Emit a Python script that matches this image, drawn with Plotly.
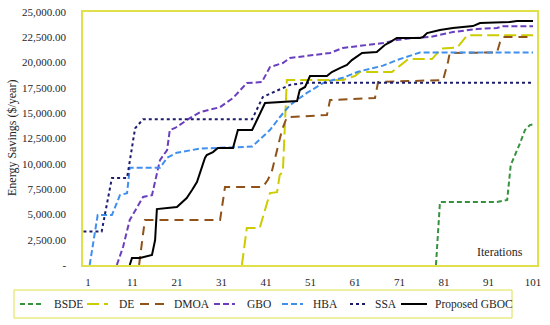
import plotly.graph_objects as go

# ---- data (iteration, energy savings $/year) ----
BSDE_x = [79.2, 80.1, 92.9, 95.2, 96, 97, 98.1, 99.2, 100.3, 101]
BSDE_y = [0, 6220, 6220, 6420, 9880, 10870, 12050, 13340, 13830, 13900]

DE_x = [35.6, 36.7, 39.6, 41.9, 43.5, 44.1, 44.8, 45.2, 45.7, 58.3, 61, 62.1, 69.3, 73, 78.3, 80.5, 84, 86.2, 101]
DE_y = [0, 3650, 3650, 7110, 7200, 8900, 9190, 13340, 18280, 18280, 18670, 19070, 19070, 20350, 20350, 21400, 21500, 22700, 22700]

DMOA_x = [12.5, 13.8, 30.7, 31.8, 40.3, 41.4, 42.3, 43.7, 44.6, 45.7, 54.7, 55.4, 65.5, 66.2, 80.8, 81.9, 82.3, 92.9, 93.6, 94.3, 101]
DMOA_y = [0, 4450, 4450, 7700, 7700, 8400, 9190, 11660, 13340, 14600, 14820, 16300, 16500, 18080, 18280, 20060, 20950, 21000, 22030, 22530, 22530]

GBO_x = [7.5, 8.9, 10.4, 13.4, 15.4, 17.2, 18.8, 19.4, 20.6, 23.9, 26.2, 30.7, 33.6, 36.7, 40.1, 41.9, 44.8, 46.4, 55.4, 58.3, 67.3, 70.4, 74, 77.9, 83, 88.4, 92.9, 94.3, 101]
GBO_y = [0, 1780, 4450, 6720, 6900, 10370, 11360, 13340, 13540, 14520, 15100, 15600, 16500, 17980, 18080, 19560, 19960, 20450, 20950, 21450, 21930, 22230, 22430, 22530, 23020, 23320, 23420, 23600, 23600]

HBA_x = [1.4, 3.2, 6.4, 8.2, 9.8, 10.4, 17.2, 18.8, 21, 26.2, 37.9, 40.1, 41.9, 44.1, 46.4, 48.6, 50.2, 54.3, 58.3, 61.7, 67.3, 70.4, 74, 75.6, 101]
HBA_y = [0, 4940, 4940, 6900, 7100, 9600, 9600, 10600, 11100, 11500, 11700, 12650, 13340, 14600, 15800, 16500, 17000, 18100, 18500, 19100, 19700, 20250, 20750, 21000, 21000]

SSA_x = [0, 4.1, 4.8, 6.4, 9.8, 11.6, 13.4, 37.9, 40.3, 46.4, 49.8, 101]
SSA_y = [3300, 3300, 4940, 8600, 8600, 13500, 14400, 14400, 16600, 17800, 18000, 18000]

GBOC_x = [10.4, 10.9, 12.7, 15.4, 16.1, 16.5, 21, 22.1, 23.2, 24.4, 25.5, 27.3, 27.7, 29.1, 30.2, 33.6, 34.7, 37.9, 40.8, 48, 48.6, 49.8, 50.9, 54.7, 55.8, 57.6, 59.2, 60.3, 62.6, 65.9, 67.7, 68.9, 70.4, 75.6, 76.3, 77.2, 80.1, 83, 87.5, 89.1, 95.8, 97.4, 101]
GBOC_y = [0, 690, 690, 990, 2470, 5530, 5730, 6220, 6620, 7410, 8200, 10570, 10870, 11160, 11560, 11560, 13340, 13340, 16000, 16200, 17290, 17590, 18670, 18670, 19070, 19460, 19760, 20250, 20950, 21040, 21740, 22030, 22430, 22430, 22530, 22920, 23220, 23420, 23610, 23910, 24010, 24110, 24110]

x_ticks = [1, 11, 21, 31, 41, 51, 61, 71, 81, 91, 101]
y_ticks = [0, 2500, 5000, 7500, 10000, 12500, 15000, 17500, 20000, 22500, 25000]
y_tick_text = ["-", "2,500.00", "5,000.00", "7,500.00", "10,000.00", "12,500.00",
               "15,000.00", "17,500.00", "20,000.00", "22,500.00", "25,000.00"]

FONT = "Liberation Serif"
TXT = "#262626"
BORDER = "#e0e04a"

W, H = 550, 325
ML, MR, MT, MB = 83, 13, 12, 60
PW, PH = W - ML - MR, H - MT - MB


def px(xp):  # pixel -> paper x
    return (xp - ML) / PW


def py(yp):  # pixel -> paper y
    return (H - MB - yp) / PH


series = [
    ("BSDE", BSDE_x, BSDE_y, "#35923d", "5px,3px"),
    ("DE", DE_x, DE_y, "#cccc00", "12px,5px"),
    ("DMOA", DMOA_x, DMOA_y, "#8f5219", "9px,6px"),
    ("GBO", GBO_x, GBO_y, "#6a3fbf", "6px,3px"),
    ("HBA", HBA_x, HBA_y, "#3f8fef", "6px,3px"),
    ("SSA", SSA_x, SSA_y, "#1c1c6e", "dot"),
    ("Proposed GBOC", GBOC_x, GBOC_y, "#000000", "solid"),
]
# legend layout (pixel positions of sample start/end and label start)
legend_pos = [(20, 43, 52), (87, 108, 117), (140, 165, 172), (214, 235, 245),
              (282, 303, 311), (350, 367, 373), (401, 427, 433)]

fig = go.Figure()
shapes = [dict(type="rect", xref="paper", yref="paper", x0=px(14), x1=px(512),
               y0=py(318), y1=py(290), line=dict(color=BORDER, width=1),
               fillcolor="white", layer="above")]
annotations = [
    dict(text="Energy Savings ($/year)", textangle=-90, x=px(12), y=py(138),
         xref="paper", yref="paper", xanchor="center", yanchor="middle", showarrow=False,
         font=dict(family=FONT, size=12, color=TXT)),
    dict(text="Iterations", x=px(500), y=py(252), xref="paper", yref="paper",
         xanchor="center", yanchor="middle",
         showarrow=False, font=dict(family=FONT, size=12, color=TXT)),
]
for (name, xs, ys, col, dash), (s0, s1, t0) in zip(series, legend_pos):
    fig.add_trace(go.Scatter(x=xs, y=ys, mode="lines", name=name,
                             line=dict(color=col, width=2, dash=dash)))
    shapes.append(dict(type="line", xref="paper", yref="paper", x0=px(s0), x1=px(s1),
                       y0=py(304), y1=py(304), line=dict(color=col, width=2, dash=dash),
                       layer="above"))
    annotations.append(dict(text=name, x=px(t0), y=py(304), xref="paper", yref="paper",
                            xanchor="left", yanchor="middle", showarrow=False,
                            font=dict(family=FONT, size=11.5, color=TXT)))

fig.update_layout(
    width=W, height=H,
    margin=dict(l=ML, r=MR, t=MT, b=MB, autoexpand=False),
    paper_bgcolor="white", plot_bgcolor="white",
    font=dict(family=FONT, size=11, color=TXT),
    showlegend=False,
    shapes=shapes,
    annotations=annotations,
)
fig.update_xaxes(range=[-0.1, 101.9], tickvals=x_ticks, ticktext=[str(t) for t in x_ticks],
                 showgrid=False, zeroline=False, showline=True, mirror=True,
                 linecolor=BORDER, linewidth=1.5, ticks="", ticklabelstandoff=6,
                 tickfont=dict(family=FONT, size=11, color=TXT))
fig.update_yaxes(range=[0, 25000], tickvals=y_ticks, ticktext=y_tick_text,
                 showgrid=False, zeroline=False, showline=True, mirror=True,
                 linecolor=BORDER, linewidth=1.5, ticks="", ticklabelstandoff=13,
                 tickfont=dict(family=FONT, size=11, color=TXT))

fig.write_html("out.html", config={"displayModeBar": False},
               post_script="document.body.style.margin='0';document.body.style.overflow='hidden';")
